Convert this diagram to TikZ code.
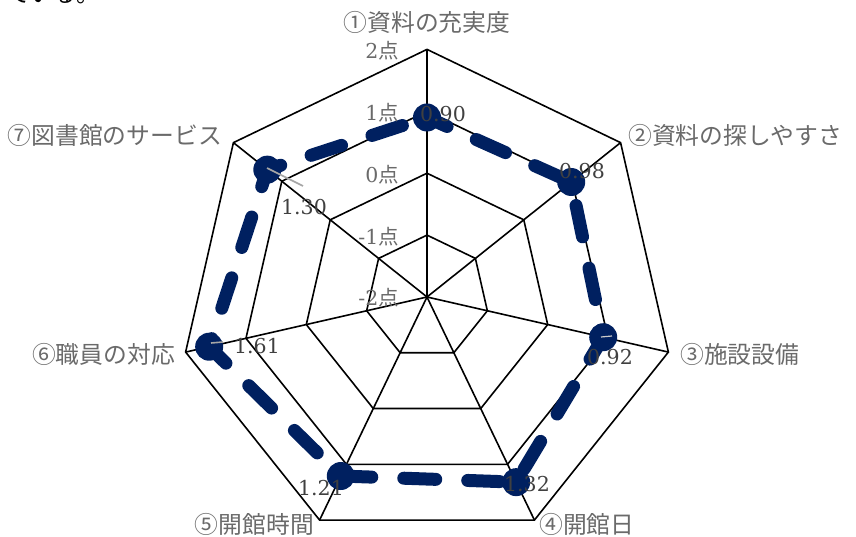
\documentclass[tikz,border=0pt]{standalone}
\usepackage{fontspec}
\setmainfont{DejaVu Serif}
\newfontfamily\cjk{Noto Sans CJK JP}
\definecolor{navy}{HTML}{002060}
\definecolor{axlab}{HTML}{6A6A6A}
\definecolor{vallab}{HTML}{404040}
\definecolor{leader}{HTML}{A6A6A6}
\tikzset{
  gridline/.style={black,line width=1.6pt,line join=miter},
  serieslinestyle/.style={navy,line width=13pt,line cap=round,line join=round,dash pattern=on 32pt off 32pt,dash phase=10pt},
  markerdot/.style={circle,fill=navy,minimum size=28pt,inner sep=0pt},
  axislabel/.style={text=axlab,font=\cjk\fontsize{23.8}{28}\selectfont,inner sep=0pt},
  scalelabel/.style={text=axlab,font=\fontsize{20.5}{26}\selectfont,inner sep=0pt,anchor=east},
  valuelabel/.style={text=vallab,font=\fontsize{20.5}{26}\selectfont,inner sep=0pt},
  leaderline/.style={leader,line width=1.6pt},
}
\begin{document}
\begin{tikzpicture}[x=1pt,y=-1pt]
\useasboundingbox (0,0) rectangle (856,537);
\def\cx{427}\def\cy{297}\def\unit{61.9}
% cropped text at top
\node[anchor=base west,inner sep=0pt,font=\cjk\fontsize{23}{26}\selectfont] (toptext) at (7,3) {ている。};
% grid coordinates
\coordinate (c) at (\cx,\cy);
\foreach \k in {1,2,3,4}{
  \foreach \i in {0,...,6}{
    \coordinate (g\k-\i) at ({\cx+\k*\unit*sin(\i*360/7)},{\cy-\k*\unit*cos(\i*360/7)});
  }
}
% rings
\foreach \k in {1,2,3,4}{
  \draw[gridline] (g\k-0) -- (g\k-1) -- (g\k-2) -- (g\k-3) -- (g\k-4) -- (g\k-5) -- (g\k-6) -- cycle;
}
% spokes
\foreach \i in {0,...,6}{
  \draw[gridline] (c) -- (g4-\i);
}
% data points
\foreach \v [count=\n from 0] in {0.90,0.98,0.92,1.32,1.21,1.61,1.30}{
  \coordinate (d\n) at ({\cx+(\v+2)*\unit*sin(\n*360/7)},{\cy-(\v+2)*\unit*cos(\n*360/7)});
}
\draw[serieslinestyle] (d0) -- (d1) -- (d2) -- (d3) -- (d4) -- (d5) -- (d6) -- cycle;
\foreach \n in {0,...,6}{
  \node[markerdot] (m\n) at (d\n) {};
}
% leader lines
\coordinate (l6a) at (267,168); \coordinate (l6b) at (303,186);
\draw[leaderline] (l6a) -- (l6b);
\coordinate (l5a) at (211,343); \coordinate (l5b) at (223,342);
\draw[leaderline] (l5a) -- (l5b);
\coordinate (l2a) at (601,337); \coordinate (l2b) at (612,336);
\draw[leader!60!white,line width=1.2pt] (l2a) -- (l2b);
% value labels
\node[valuelabel] (v0) at (443,114) {0.90};
\node[valuelabel] (v1) at (582,171) {0.98};
\node[valuelabel] (v2) at (610,357) {0.92};
\node[valuelabel] (v3) at (527,484) {1.32};
\node[valuelabel] (v4) at (321,488) {1.21};
\node[valuelabel] (v5) at (257,346) {1.61};
\node[valuelabel] (v6) at (304,207) {1.30};
% scale labels
\node[scalelabel] (s2) at (399,51) {2{\cjk 点}};
\node[scalelabel] (s1) at (399,113) {1{\cjk 点}};
\node[scalelabel] (s0) at (399,175) {0{\cjk 点}};
\node[scalelabel] (sm1) at (399,237) {-1{\cjk 点}};
\node[scalelabel] (sm2) at (399,298) {-2{\cjk 点}};
% axis labels
\node[axislabel,anchor=center] (a0) at (427,22) {①資料の充実度};
\node[axislabel,anchor=west] (a1) at (628,135) {②資料の探しやすさ};
\node[axislabel,anchor=west] (a2) at (680,354) {③施設設備};
\node[axislabel,anchor=west] (a3) at (539,524) {④開館日};
\node[axislabel,anchor=east] (a4) at (314,524) {⑤開館時間};
\node[axislabel,anchor=east] (a5) at (175,354) {⑥職員の対応};
\node[axislabel,anchor=east] (a6) at (222,135) {⑦図書館のサービス};
\end{tikzpicture}
\end{document}
